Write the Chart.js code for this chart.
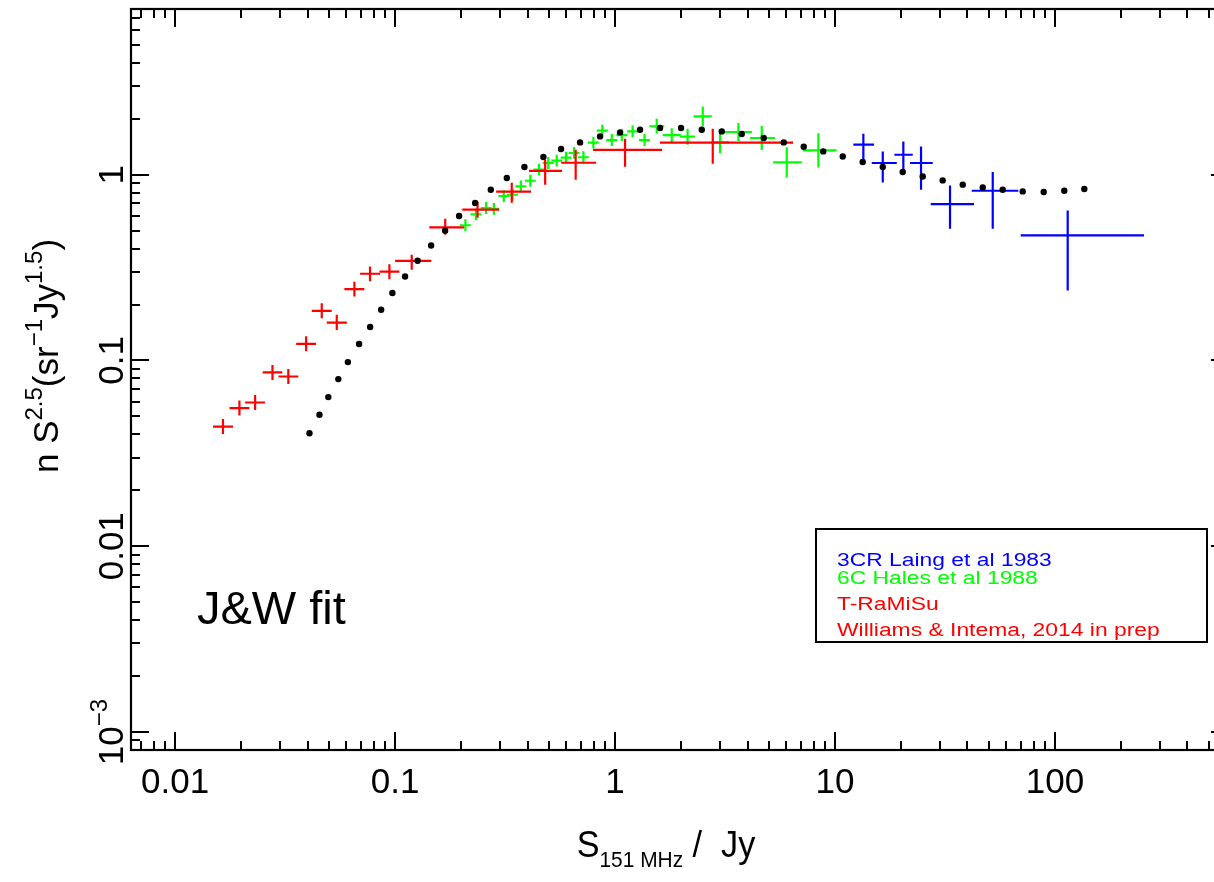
<!DOCTYPE html>
<html><head><meta charset="utf-8">
<script src="https://cdn.jsdelivr.net/npm/chart.js@4.4.0/dist/chart.umd.min.js"></script>
<style>html,body{margin:0;padding:0;overflow:hidden;background:#fff;width:1214px;height:882px}canvas{display:block}</style>
</head><body>
<canvas id="c" width="1240" height="882"></canvas>
<script>
// ---- J&W fit (black dots) ----
const fitS = [0.0408,0.0453,0.0497,0.0552,0.0610,0.0686,0.0770,0.0864,0.0972,0.111,0.1266,0.1458,0.1688,0.1954,0.2311,0.2723,0.322,0.3871,0.4722,0.5682,0.6934,0.8546,1.054,1.299,1.601,1.995,2.478,3.055,3.766,4.741,5.845,7.205,8.839,10.84,13.36,16.48,20.31,25.04,30.86,38.07,46.93,57.84,71.31,88.85,110.2,135.9];
const fitN = [0.0406,0.0510,0.0635,0.0794,0.0980,0.1226,0.1513,0.1875,0.2307,0.2834,0.3442,0.4162,0.4995,0.5992,0.704,0.830,0.960,1.100,1.245,1.375,1.493,1.608,1.690,1.747,1.784,1.784,1.747,1.711,1.656,1.576,1.493,1.415,1.335,1.254,1.171,1.100,1.034,0.979,0.932,0.884,0.854,0.830,0.813,0.807,0.820,0.838];

// ---- T-RaMiSu, Williams & Intema (red) ----
const redS   = [0.0165,0.0196,0.0231,0.0277,0.0327,0.0394,0.0464,0.0543,0.0653,0.0769,0.0942,0.119,0.169,0.237,0.339,0.481,0.662,1.11,2.78];
const redSLo = [0.01487,0.01766,0.0208,0.0250,0.0295,0.0355,0.0418,0.0489,0.0588,0.0693,0.0849,0.100,0.143,0.202,0.288,0.406,0.569,0.794,1.60];
const redSHi = [0.01832,0.02176,0.0256,0.0307,0.0363,0.0437,0.0515,0.0603,0.0725,0.0854,0.1046,0.146,0.206,0.297,0.415,0.574,0.820,1.635,6.44];
const redN   = [0.0441,0.0554,0.0594,0.0862,0.082,0.123,0.185,0.160,0.242,0.293,0.301,0.344,0.520,0.648,0.810,1.05,1.16,1.36,1.49];
const redNLo = [0.0402,0.0505,0.0541,0.0786,0.0748,0.112,0.169,0.146,0.221,0.267,0.274,0.308,0.475,0.587,0.707,0.883,0.940,1.104,1.146];
const redNHi = [0.0484,0.0608,0.0652,0.0946,0.090,0.135,0.203,0.176,0.265,0.321,0.330,0.371,0.580,0.716,0.906,1.205,1.363,1.563,1.769];

// ---- 6C Hales et al 1988 (green) ----
const greenS   = [0.2087,0.2330,0.2592,0.2812,0.3119,0.342,0.373,0.412,0.451,0.497,0.543,0.599,0.651,0.718,0.797,0.875,0.966,1.073,1.201,1.361,1.547,1.810,2.136,2.504,3.001,3.636,4.643,6.033,8.399];
const greenSLo = [0.197,0.220,0.245,0.266,0.295,0.323,0.352,0.389,0.426,0.469,0.513,0.566,0.615,0.678,0.753,0.826,0.912,1.013,1.134,1.285,1.430,1.647,1.974,2.278,2.731,3.002,4.109,5.228,7.154];
const greenSHi = [0.221,0.247,0.274,0.298,0.330,0.362,0.395,0.436,0.478,0.526,0.575,0.634,0.689,0.760,0.844,0.927,1.023,1.136,1.272,1.441,1.674,1.989,2.311,2.752,3.298,4.185,5.335,7.059,10.18];
const greenN   = [0.5346,0.611,0.662,0.654,0.768,0.780,0.865,0.928,1.064,1.156,1.190,1.235,1.309,1.242,1.487,1.726,1.537,1.632,1.711,1.537,1.824,1.632,1.602,2.06,1.493,1.698,1.576,1.165,1.352];
const greenNLo = [0.497,0.568,0.615,0.608,0.714,0.725,0.804,0.862,0.989,1.074,1.106,1.148,1.217,1.154,1.382,1.604,1.428,1.517,1.590,1.428,1.663,1.496,1.451,1.820,1.303,1.519,1.359,0.967,1.095];
const greenNHi = [0.575,0.657,0.712,0.704,0.826,0.839,0.931,0.999,1.145,1.244,1.280,1.329,1.408,1.336,1.600,1.857,1.654,1.756,1.841,1.654,2.001,1.780,1.769,2.332,1.711,1.898,1.828,1.404,1.670];

// ---- 3CR Laing et al 1983 (blue) ----
const blueS   = [13.45,16.48,20.44,24.60,33.32,52.11,114.2];
const blueSLo = [12.11,14.69,18.61,21.92,27.23,41.81,69.84];
const blueSHi = [15.04,19.08,22.55,27.81,42.83,68.10,253.8];
const blueN   = [1.451,1.156,1.281,1.156,0.695,0.820,0.471];
const blueNLo = [1.215,0.909,1.064,0.830,0.512,0.512,0.238];
const blueNHi = [1.663,1.335,1.511,1.420,0.876,1.034,0.642];

// ---- axes ----
const xTickValues = [0.01,0.1,1,10,100];
const xTickLabels = ['0.01','0.1','1','10','100'];
const yTickValues = [1,0.1,0.01];
const yTickLabels = ['1','0.1','0.01'];
const yLastTick = 0.001; // drawn as 10^-3
const legendLabels = ['3CR Laing et al 1983','6C Hales et al 1988','T-RaMiSu','Williams & Intema, 2014 in prep'];
const legendColors = ['#0000ff','#00ff00','#ff0000','#ff0000'];

const FONT = "'Liberation Sans', Arial, Helvetica, sans-serif";

function pts(S,N,SLo,SHi,NLo,NHi){
  return S.map((s,i)=>({x:s,y:N[i],xLo:SLo?SLo[i]:s,xHi:SHi?SHi[i]:s,yLo:NLo?NLo[i]:N[i],yHi:NHi?NHi[i]:N[i]}));
}

function rich(ctx, parts, x, y, opt){
  opt = opt||{};
  const rot=opt.rot||0, sx=opt.sx||1, align=opt.align||'center';
  ctx.save();
  ctx.translate(x,y); ctx.rotate(rot); ctx.scale(sx,1);
  ctx.fillStyle=opt.color||'#000';
  ctx.textBaseline='alphabetic'; ctx.textAlign='left';
  let w=0;
  parts.forEach(p=>{ctx.font=p.s+'px '+FONT; p.w=ctx.measureText(p.t).width; w+=p.w+(p.gap||0);});
  let cx = align==='center' ? -w/2 : (align==='right' ? -w : 0);
  parts.forEach(p=>{ctx.font=p.s+'px '+FONT; ctx.fillText(p.t,cx,p.dy||0); cx+=p.w+(p.gap||0);});
  ctx.restore();
}

const framePlugin = {
  id:'frame',
  beforeDatasetsDraw(chart){
    const ctx=chart.ctx, xs=chart.scales.x, ys=chart.scales.y, a=chart.chartArea;
    ctx.save();
    ctx.beginPath(); ctx.rect(a.left,a.top,a.right-a.left,a.bottom-a.top); ctx.clip();
    ctx.lineWidth=2.2; ctx.lineCap='butt';
    chart.data.datasets.forEach(ds=>{
      if(!ds.errorBars) return;
      ctx.strokeStyle=ds.barColor;
      ds.data.forEach(p=>{
        const px=xs.getPixelForValue(p.x), py=ys.getPixelForValue(p.y);
        ctx.beginPath();
        ctx.moveTo(xs.getPixelForValue(p.xLo),py); ctx.lineTo(xs.getPixelForValue(p.xHi),py);
        ctx.moveTo(px,ys.getPixelForValue(p.yLo)); ctx.lineTo(px,ys.getPixelForValue(p.yHi));
        ctx.stroke();
      });
    });
    ctx.restore();
  },
  afterDraw(chart){
    const ctx=chart.ctx, xs=chart.scales.x, ys=chart.scales.y, a=chart.chartArea;
    ctx.save();
    ctx.strokeStyle='#000'; ctx.lineWidth=2.2;
    ctx.strokeRect(a.left,a.top,a.right-a.left,a.bottom-a.top);
    ctx.lineWidth=2;
    ctx.beginPath();
    for(let d=-4; d<=3; d++) for(let m=1;m<=9;m++){
      const v=m*Math.pow(10,d);
      if(v>=xs.min && v<=xs.max){
        const px=Math.round(xs.getPixelForValue(v)); const L=m===1?18:9;
        ctx.moveTo(px,a.bottom); ctx.lineTo(px,a.bottom-L);
        ctx.moveTo(px,a.top); ctx.lineTo(px,a.top+L);
      }
      if(v>=ys.min && v<=ys.max){
        const py=Math.round(ys.getPixelForValue(v)); const L=m===1?18:9;
        ctx.moveTo(a.left,py); ctx.lineTo(a.left+L,py);
        ctx.moveTo(a.right,py); ctx.lineTo(a.right-L,py);
      }
    }
    ctx.stroke();

    // x tick labels
    xTickValues.forEach((v,i)=>{
      rich(ctx,[{t:xTickLabels[i],s:35}],xs.getPixelForValue(v),a.bottom+43,{sx:1.0});
    });
    // y tick labels (rotated)
    yTickValues.forEach((v,i)=>{
      rich(ctx,[{t:yTickLabels[i],s:35}],a.left-8,ys.getPixelForValue(v),{rot:-Math.PI/2,sx:1.0});
    });
    rich(ctx,[{t:'10',s:35},{t:'\u22123',s:24,dy:-16}],a.left-8,ys.getPixelForValue(yLastTick),{rot:-Math.PI/2,sx:1.0});

    // axis titles
    rich(ctx,[{t:'n S',s:35},{t:'2.5',s:24,dy:-16},{t:'(sr',s:35},{t:'\u22121',s:24,dy:-16},{t:'Jy',s:35},{t:'1.5',s:24,dy:-16},{t:')',s:35}],
      58,356,{rot:-Math.PI/2,sx:1.0});
    rich(ctx,[{t:'S',s:36},{t:'151 MHz',s:22,dy:10,gap:10},{t:'/  Jy',s:36}],666,857,{sx:0.95});

    // annotation
    rich(ctx,[{t:'J&W fit',s:47}],197,624,{align:'left'});

    // legend box
    ctx.lineWidth=2; ctx.strokeStyle='#000';
    ctx.strokeRect(816,529,391,113);
    const ly=[566,584,610,636];
    legendLabels.forEach((t,i)=>rich(ctx,[{t:t,s:18}],837,ly[i],{align:'left',sx:1.27,color:legendColors[i]}));
    ctx.restore();
  }
};

new Chart(document.getElementById('c').getContext('2d'),{
  type:'scatter',
  data:{datasets:[
    {label:'J&W fit',data:pts(fitS,fitN),pointRadius:3.2,pointBackgroundColor:'#000',pointBorderWidth:0,showLine:false},
    {label:'6C Hales et al 1988',data:pts(greenS,greenN,greenSLo,greenSHi,greenNLo,greenNHi),pointRadius:0,errorBars:true,barColor:'#00ff00'},
    {label:'T-RaMiSu',data:pts(redS,redN,redSLo,redSHi,redNLo,redNHi),pointRadius:0,errorBars:true,barColor:'#ff0000'},
    {label:'3CR Laing et al 1983',data:pts(blueS,blueN,blueSLo,blueSHi,blueNLo,blueNHi),pointRadius:0,errorBars:true,barColor:'#0000ff'}
  ]},
  options:{
    responsive:false, animation:false, events:[],
    layout:{padding:{left:131,top:9,right:11,bottom:132}},
    plugins:{legend:{display:false},tooltip:{enabled:false}},
    scales:{
      x:{type:'logarithmic',min:0.0063,max:618,display:false},
      y:{type:'logarithmic',min:0.0008,max:7.8,display:false}
    }
  },
  plugins:[framePlugin]
});
</script>
</body></html>
